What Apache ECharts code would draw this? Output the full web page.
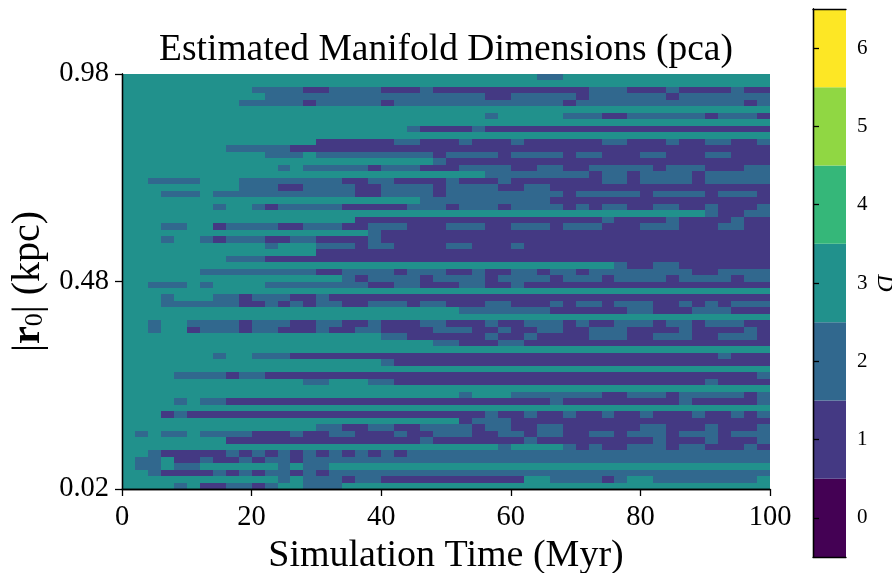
<!DOCTYPE html>
<html><head><meta charset="utf-8">
<script src="https://cdn.jsdelivr.net/npm/echarts@6/dist/echarts.min.js"></script>
<style>html,body{margin:0;padding:0;background:#fff}#c{width:892px;height:573px}</style>
</head><body><div id="c"></div>
<script>
// ---- data ----
const xTickValues = [0, 20, 40, 60, 80, 100];           // Simulation Time (Myr)
const yTickLabels = ['0.02', '0.48', '0.98'];           // |r0| (kpc), bottom / middle / top
const dimLevels = [0, 1, 2, 3, 4, 5, 6];                // colorbar levels of D
const viridis7 = ['#440154', '#443983', '#31688e', '#21918c', '#35b779', '#90d743', '#fde725'];
const timeBinWidth = 2;                                  // Myr per cell (50 cells over 0-100)
// estimated dimension D per cell; first string = top row (0.98), last = bottom row (0.02)
const dimRows = [
"3333333333 3333333333 3333333333 3322333333 3333333333",
"3333333333 3333333333 3333333333 3333333333 3333333333",
"3333333333 2222112222 1112111111 1111112221 1121111211",
"3333333333 3222222222 2222222211 2222212222 2212222222",
"3333333332 2222122222 1222222222 2222122222 2222222212",
"3333333333 3333333333 3333333333 3333333333 3333333333",
"3333333333 3333333333 3333333323 3333222112 2222212221",
"3333333333 3333333333 3333333333 3333333333 3333333333",
"3333333333 3333333333 3321111211 1111111111 1111111111",
"3333333333 3333333333 3333333333 3333333333 3333333333",
"3333333333 3333311111 1221112111 2111111221 1121122112",
"3333333322 2221111111 1111111111 1111111111 1111111111",
"3333333333 3222322222 2222122221 2222122111 2211122111",
"3333333333 3333333333 3333211111 1111111111 1111111111",
"3333333333 3323222221 2221112222 1122112222 2122211122",
"3333333333 3333333333 3333333322 2222221221 2222122222",
"3322223332 2222222112 2111121112 1111111221 2222122222",
"3333333332 2211222211 2222122221 1221111111 1111111111",
"3332223222 2222222211 2222122222 2222122222 1222212221",
"3333333333 3333333333 3332222222 2221111111 1111111111",
"3333333233 2122222111 1122212221 2222121221 1221121112",
"3333333333 3333333333 3333333333 3333333333 3333321122",
"3333333333 3333333311 1111111111 1111111211 1121111211",
"3332233122 2211222112 2211122211 2221222111 2221112211",
"3333333333 3333333332 1111111111 1111111111 1111111111",
"3332332122 2112211112 1111111111 1111111111 1111111111",
"3333333333 3233322212 2111122111 2111111111 1111111111",
"3333333333 3333311111 1111111111 1111111111 1111111111",
"3333333322 2111111111 1111111111 1111111111 1111111111",
"3333333333 3333333333 3333333333 3333333321 1221111111",
"3333332222 2222211222 2122211211 2212212222 2222112222",
"3333333333 3333333212 2221222212 2221222122 2212222122",
"3322232333 3222222221 1221112211 2111111111 1111111111",
"3333333333 3333333333 3333333333 3333333333 3333333333",
"3332333221 2221121111 1111111111 1111111111 1111111111",
"3332222221 1212122112 2212211122 1112122122 2112121222",
"3333333333 3333333333 3333332222 2221111112 2111222111",
"3333333333 3333333333 3333333333 3333333333 3333333333",
"3323322221 2221122112 1112211121 1222121122 2122122211",
"3323312221 2211121122 1111222112 1122112221 1112111121",
"3333333333 3333333333 2211111121 1211112221 1222112221",
"3333333333 3333333333 3333221112 2111111111 1111111111",
"3333333333 3333333333 3333333333 3333333333 3333333333",
"3333333233 2221111111 1111111111 1111111111 1111112111",
"3333333333 3333333333 2111111111 1111111111 1111111111",
"3333333333 3333333333 3333333333 3333333333 3333333333",
"3333222212 2111111111 1111111111 1111111111 1111111112",
"3333333333 3333223332 2111111111 1111111111 1111121111",
"3333333333 3333333333 3333333333 3333333333 3333333333",
"3333333333 3333333333 3333332333 2222222112 2212222212",
"3333232211 1111111111 1111111111 1112111111 1112111112",
"3333333333 3333333333 3333333333 3333333333 3333333333",
"3331211111 1111111111 1111111121 1211211211 2111211212",
"3333333333 3333333333 3333331222 1111111111 1111111111",
"3333333333 3333322112 2112222122 1122111111 2211121112",
"3232232222 1112112211 1211222112 2122112212 2212221222",
"3333333311 1111111111 1112111111 1211111111 1211121112",
"3333333333 3333333333 3333333332 3333212112 2212211121",
"3321111121 2121212121 2122222222 2222222222 2222222222",
"3223112112 1221222222 2222222222 2222222222 2222222222",
"3223223333 3323223333 3333333333 3333333333 3333333333",
"3321111212 1221212222 2222222222 2222222222 2222222222",
"3333333333 3323222122 1111111111 1332222123 3222222223",
"3333231122 1233222333 3333333333 3333333333 3333333333"
];

// ---- build the series data from the arrays ----
const nRows = dimRows.length;
const cells = [];
dimRows.forEach((row, i) => {
  const s = row.replace(/ /g, '');
  for (let j = 0; j < s.length; j++) {
    cells.push([j * timeBinWidth, nRows - 1 - i, Number(s[j])]);
  }
});

const serif = '"Liberation Serif","DejaVu Serif",serif';
const black = '#000';
const frameLine = { show: true, lineStyle: { color: black, width: 1.3 } };

const chart = echarts.init(document.getElementById('c'));
chart.setOption({
  animation: false,
  backgroundColor: '#fff',
  title: {
    text: 'Estimated Manifold Dimensions (pca)',
    left: 'center', top: 26,
    textStyle: { fontFamily: serif, fontSize: 37.5, fontWeight: 'normal', color: black }
  },
  grid: [
    { left: 122, top: 74, width: 648, height: 415, containLabel: false, outerBoundsMode: 'none' },
    { left: 813, top: 9, width: 33, height: 548, containLabel: false, outerBoundsMode: 'none' }
  ],
  xAxis: [
    { gridIndex: 0, type: 'value', min: xTickValues[0], max: xTickValues[xTickValues.length - 1], interval: 20,
      position: 'bottom', z: 10, axisLine: frameLine,
      axisTick: { show: true, length: 7, lineStyle: { color: black, width: 1.3 } },
      axisLabel: { fontFamily: serif, fontSize: 28.5, color: black, margin: 14 },
      splitLine: { show: false },
      name: 'Simulation Time (Myr)', nameLocation: 'middle', nameGap: 37,
      nameTextStyle: { fontFamily: serif, fontSize: 38, color: black } },
    { gridIndex: 0, type: 'value', min: 0, max: 100, position: 'top', z: 10, axisLine: frameLine,
      axisTick: { show: false }, axisLabel: { show: false }, splitLine: { show: false } },
    { gridIndex: 1, type: 'value', min: 0, max: 1, position: 'bottom', z: 10, axisLine: frameLine,
      axisTick: { show: false }, axisLabel: { show: false }, splitLine: { show: false } },
    { gridIndex: 1, type: 'value', min: 0, max: 1, position: 'top', z: 10, axisLine: frameLine,
      axisTick: { show: false }, axisLabel: { show: false }, splitLine: { show: false } }
  ],
  yAxis: [
    { gridIndex: 0, type: 'value', min: 0, max: nRows, interval: nRows / 2, position: 'left', z: 10,
      axisLine: frameLine,
      axisTick: { show: true, length: 7, lineStyle: { color: black, width: 1.3 } },
      axisLabel: { fontFamily: serif, fontSize: 28.5, color: black, margin: 13,
        formatter: v => yTickLabels[Math.round(v / (nRows / 2))] },
      splitLine: { show: false },
      name: '|{b|r}{s|0}| (kpc)', nameLocation: 'middle', nameRotate: 90, nameGap: 71,
      nameTextStyle: { fontFamily: serif, fontSize: 40, color: black,
        rich: { b: { fontFamily: serif, fontSize: 40, fontWeight: 'bold', color: black },
                s: { fontFamily: serif, fontSize: 26, color: black, padding: [13, 0, 0, 0] } } } },
    { gridIndex: 0, type: 'value', min: 0, max: nRows, position: 'right', z: 10, axisLine: frameLine,
      axisTick: { show: false }, axisLabel: { show: false }, splitLine: { show: false } },
    { gridIndex: 1, type: 'category', data: dimLevels.map(String), position: 'right', z: 10,
      axisLine: frameLine,
      axisTick: { show: true, alignWithLabel: true, length: 6, lineStyle: { color: black, width: 1.3 } },
      axisLabel: { fontFamily: serif, fontSize: 21, color: black, margin: 11 },
      splitLine: { show: false } },
    { gridIndex: 1, type: 'category', data: dimLevels.map(String), position: 'left', z: 10,
      axisLine: frameLine, axisTick: { show: false }, axisLabel: { show: false }, splitLine: { show: false } }
  ],
  series: [
    {
      type: 'custom', xAxisIndex: 0, yAxisIndex: 0, data: cells, encode: { x: 0, y: 1 },
      renderItem: function (params, api) {
        const x0 = api.value(0), y0 = api.value(1), v = api.value(2);
        const p0 = api.coord([x0, y0 + 1]);
        const p1 = api.coord([x0 + timeBinWidth, y0]);
        const xa = Math.round(p0[0]), xb = Math.round(p1[0]);
        const ya = Math.round(p0[1]), yb = Math.round(p1[1]);
        return { type: 'rect',
          shape: { x: xa, y: ya, width: xb - xa, height: yb - ya },
          style: { fill: viridis7[v] } };
      }
    },
    {
      type: 'bar', xAxisIndex: 2, yAxisIndex: 2, barWidth: '100%', barCategoryGap: '0%',
      data: dimLevels.map(d => ({ value: 1, itemStyle: { color: viridis7[d] } }))
    }
  ],
  graphic: [
    { type: 'text', x: 884, y: 283, rotation: -Math.PI / 2,
      style: { text: 'D', font: 'italic 24px "Liberation Serif", serif', fill: black,
               textAlign: 'center', textVerticalAlign: 'middle' } }
  ]
});
</script>
</body></html>
